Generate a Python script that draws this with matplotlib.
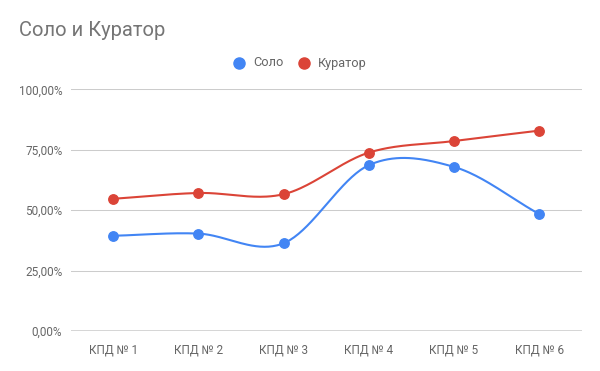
import numpy as np
import matplotlib

matplotlib.use("Agg")
import matplotlib.pyplot as plt
from matplotlib.lines import Line2D
from matplotlib.ticker import FuncFormatter

plt.rcParams["font.family"] = ["Roboto", "DejaVu Sans"]

categories = ["КПД № 1", "КПД № 2", "КПД № 3", "КПД № 4", "КПД № 5", "КПД № 6"]
solo = [0.394, 0.403, 0.363, 0.686, 0.679, 0.484]
curator = [0.547, 0.571, 0.566, 0.738, 0.786, 0.829]
series_names = ["Соло", "Куратор"]
colors = ["#4285F4", "#DB4437"]
title = "Соло и Куратор"

W, H = 600, 371


def smooth(y, n=40):
    """Catmull-Rom style Hermite curve through the points (drawing only)."""
    y = np.asarray(y, dtype=float)
    k = len(y)
    m = np.empty(k)
    m[1:-1] = (y[2:] - y[:-2]) / 2
    m[0] = y[1] - y[0]
    m[-1] = y[-1] - y[-2]
    xs, ys = [], []
    for i in range(k - 1):
        t = np.linspace(0, 1, n, endpoint=(i == k - 2))
        h00 = 2 * t**3 - 3 * t**2 + 1
        h10 = t**3 - 2 * t**2 + t
        h01 = -2 * t**3 + 3 * t**2
        h11 = t**3 - t**2
        xs.append(i + t)
        ys.append(h00 * y[i] + h10 * m[i] + h01 * y[i + 1] + h11 * m[i + 1])
    return np.concatenate(xs), np.concatenate(ys)


fig = plt.figure(figsize=(W / 100, H / 100), dpi=100)
left, right, bottom, top = 70.7, 581.7, 331, 89.3
ax = fig.add_axes([left / W, 1 - bottom / H, (right - left) / W, (bottom - top) / H])

x = np.arange(len(categories))
for vals, c in zip([solo, curator], colors):
    sx, sy = smooth(vals)
    ax.plot(sx, sy, color=c, lw=1.5, zorder=3, clip_on=False)
    ax.plot(x, vals, "o", color=c, ms=6.8, zorder=4, clip_on=False)

ax.set_xlim(-0.5, len(categories) - 0.5)
ax.set_ylim(0, 1)
ax.set_yticks([0, 0.25, 0.5, 0.75, 1.0])
ax.yaxis.set_major_formatter(FuncFormatter(lambda v, _: f"{v * 100:.2f}%".replace(".", ",")))
ax.set_xticks(x)
ax.set_xticklabels(categories)
ax.grid(axis="y", color="#cccccc", lw=0.75)
ax.axhline(0, color="#333333", lw=1.0, zorder=2)
ax.set_axisbelow(True)
for s in ax.spines.values():
    s.set_visible(False)
ax.tick_params(length=0, labelsize=8.5, labelcolor="#666666")
ax.tick_params(axis="y", pad=6)
ax.tick_params(axis="x", pad=9)

fig.text(19 / W, 1 - 31 / H, title, fontsize=14.5, color="#757575", va="center", ha="left")

# legend
leg_y = 1 - 63 / H
for cx, tx, name, c in zip([239, 304], [253, 318], series_names, colors):
    fig.add_artist(Line2D([cx / W], [leg_y], marker="o", color=c, ms=8,
                          transform=fig.transFigure))
    fig.text(tx / W, leg_y, name, fontsize=9.2, color="#666666", va="center", ha="left")

fig.savefig("out.png", dpi=100)
plt.close(fig)
